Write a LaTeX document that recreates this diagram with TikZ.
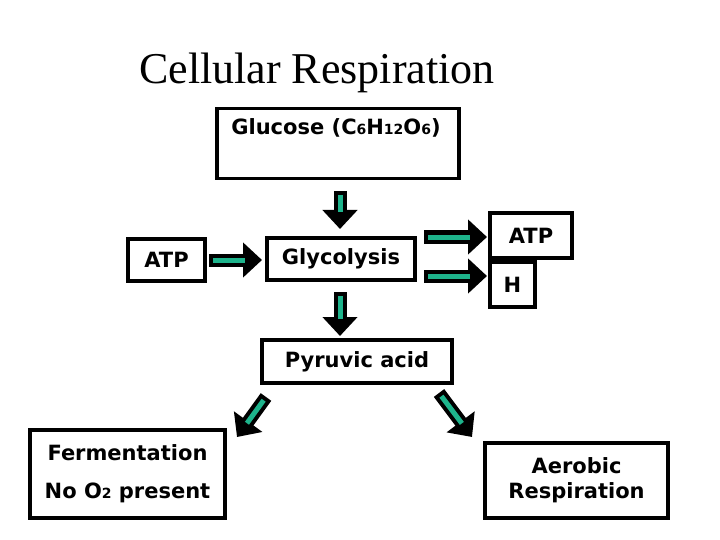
\documentclass[tikz,border=0pt]{standalone}
\usepackage{fontspec}
\setmainfont{DejaVu Sans}
\newfontfamily\ttl{Liberation Serif}
\usetikzlibrary{arrows.meta}
\definecolor{gr}{RGB}{30,180,140}
\tikzset{
 bx/.style={draw=black,line width=3.5pt,inner sep=0pt,font=\fontsize{21}{25}\selectfont\bfseries},
 blk/.style={line width=13pt,black,-{Triangle[length=19pt,width=34pt]}},
 grn/.style={line width=5pt,gr},
}
\newcommand{\barrow}[2]{%
 \draw[blk] (#1) -- (#2);
 \draw[grn,shorten <=4pt,shorten >=17pt] (#1) -- (#2);}
\newcommand{\sub}[1]{{\fontsize{14}{14}\selectfont #1}}
\begin{document}
\begin{tikzpicture}[x=1pt,y=-1pt]
\useasboundingbox (0,0) rectangle (720,540);
\node[font=\ttl\fontsize{44}{48}\selectfont] (t) at (317,73) {Cellular Respiration};
\node[bx,minimum width=242,minimum height=70,anchor=north west] (glu) at (215,107) {};
\node[font=\fontsize{21}{25}\selectfont\bfseries] (glt) at (336,128) {Glucose (C\sub{6}H\sub{12}O\sub{6})};
\node[bx,minimum width=77,minimum height=42] (atpl) at (166.5,260) {ATP};
\node[bx,minimum width=148,minimum height=42] (gly) at (341,259) {Glycolysis};
\node[bx,minimum width=82,minimum height=45] (atpr) at (531,235.5) {ATP};
\node[bx,minimum width=45,minimum height=45] (h) at (512.5,284.5) {H};
\node[bx,minimum width=190,minimum height=43] (pyr) at (357,361.5) {Pyruvic acid};
\node[bx,minimum width=195,minimum height=88,align=center] (fer) at (127.5,474) {Fermentation\\[13pt]No O\sub{2} present};
\node[bx,minimum width=183,minimum height=75,align=center] (aer) at (576.5,480.5) {Aerobic\\Respiration};
\coordinate (a1s) at (340,191); \coordinate (a1e) at (340,229);
\barrow{a1s}{a1e}
\coordinate (a2s) at (340,292); \coordinate (a2e) at (340,336);
\barrow{a2s}{a2e}
\coordinate (a3s) at (209,260); \coordinate (a3e) at (262,260);
\barrow{a3s}{a3e}
\coordinate (a4s) at (424,237); \coordinate (a4e) at (487,237);
\barrow{a4s}{a4e}
\coordinate (a5s) at (424,276); \coordinate (a5e) at (487,276);
\barrow{a5s}{a5e}
\coordinate (a6s) at (266,397); \coordinate (a6e) at (237,437);
\barrow{a6s}{a6e}
\coordinate (a7s) at (439,393); \coordinate (a7e) at (472,437);
\barrow{a7s}{a7e}
\end{tikzpicture}
\end{document}
